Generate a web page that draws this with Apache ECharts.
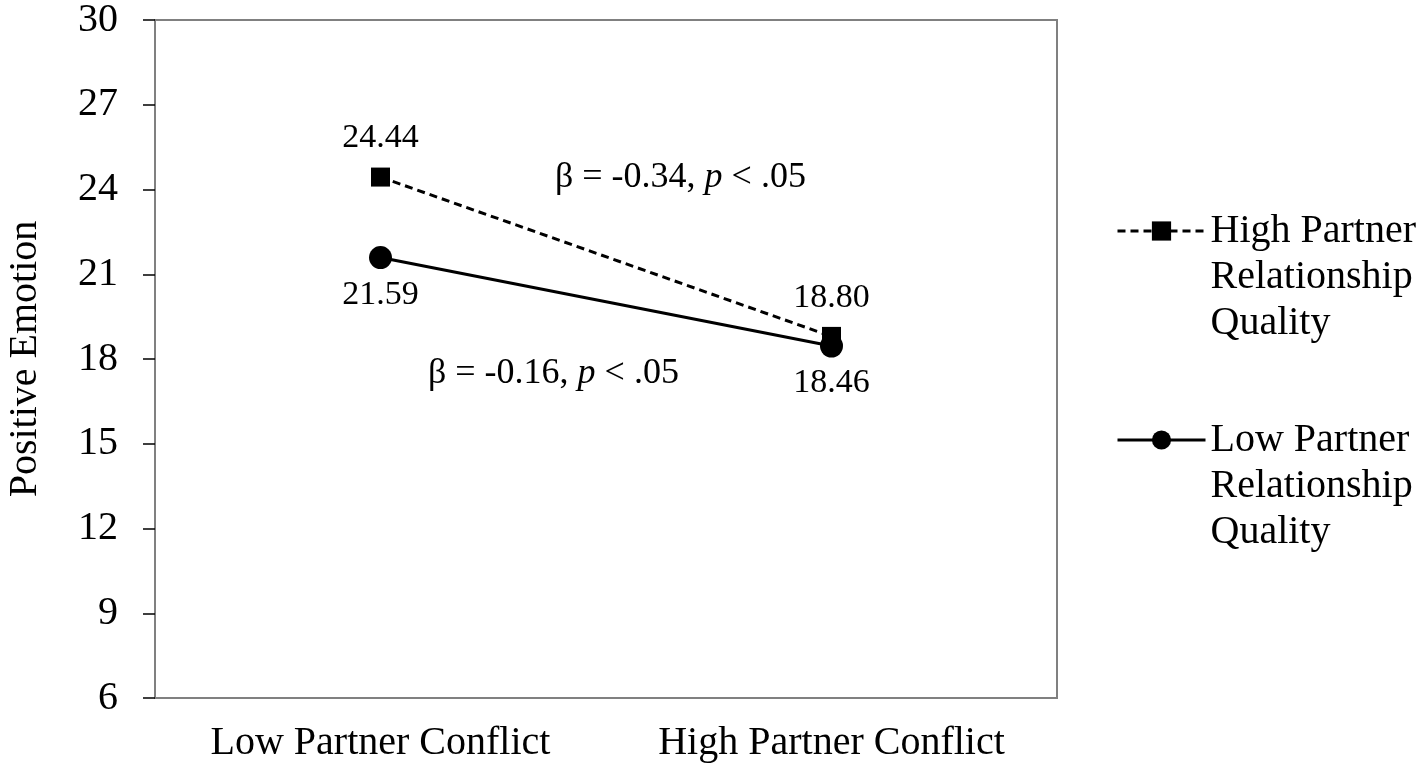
<!DOCTYPE html>
<html>
<head>
<meta charset="utf-8">
<script src="https://cdn.jsdelivr.net/npm/echarts@6/dist/echarts.min.js"></script>
<style>
  html, body { margin: 0; padding: 0; background: #fff; }
  #chart { width: 1421px; height: 771px; }
</style>
</head>
<body>
<div id="chart"></div>
<script>
var categories = ['Low Partner Conflict', 'High Partner Conflict'];
var highQuality = [24.44, 18.80];
var lowQuality = [21.59, 18.46];
var seriesNames = ['High Partner\nRelationship\nQuality', 'Low Partner\nRelationship\nQuality'];
var yTicks = { min: 6, max: 30, step: 3 };
var betaHigh = 'β = -0.34, ';
var betaLow = 'β = -0.16, ';

var serif = '"Liberation Serif", "Times New Roman", serif';
var chart = echarts.init(document.getElementById('chart'));

// rich text for the beta notes, p in italics
function betaText(prefix) {
    return '{n|' + prefix + '}{i|p}{n| < .05}';
}
var betaRich = {
    n: { fontFamily: serif, fontSize: 36, fill: '#000' },
    i: { fontFamily: serif, fontSize: 36, fontStyle: 'italic', fill: '#000' }
};

var option = {
    backgroundColor: '#fff',
    animation: false,
    textStyle: { fontFamily: serif, color: '#000' },
    grid: {
        left: 155, right: 364, top: 20, bottom: 73,
        outerBoundsMode: 'none',
        containLabel: false,
        show: true, borderColor: '#808080', borderWidth: 2
    },
    legend: {
        orient: 'vertical',
        left: 1111, top: 111,
        itemWidth: 88, itemHeight: 24, itemGap: -21,
        data: seriesNames,
        // two blank lines above so the icon sits on the first text line
        formatter: function (name) { return '\n\n' + name; },
        lineStyle: { width: 3 },
        textStyle: {
            fontFamily: serif, fontSize: 40, color: '#000', lineHeight: 46
        }
    },
    xAxis: {
        type: 'category',
        data: categories,
        axisLine: { lineStyle: { color: '#808080', width: 2 } },
        axisTick: { length: 10, lineStyle: { color: '#000', width: 1 } },
        axisLabel: { fontFamily: serif, fontSize: 40, color: '#000', margin: 25 }
    },
    yAxis: {
        type: 'value',
        min: yTicks.min, max: yTicks.max, interval: yTicks.step,
        name: 'Positive Emotion',
        nameLocation: 'middle', nameGap: 110, nameRotate: 90,
        nameTextStyle: { fontFamily: serif, fontSize: 40, color: '#000' },
        splitLine: { show: false },
        axisLine: { show: true, lineStyle: { color: '#808080', width: 2 } },
        axisTick: { show: true, length: 12, lineStyle: { color: '#000', width: 1.5 } },
        axisLabel: { fontFamily: serif, fontSize: 40, color: '#000', margin: 37 }
    },
    series: [
        {
            name: seriesNames[0],
            type: 'line',
            data: highQuality,
            symbol: 'rect', symbolSize: 19,
            itemStyle: { color: '#000' },
            lineStyle: { color: '#000', width: 3, type: [8, 5] },
            label: {
                show: true, position: 'top', distance: 12,
                fontFamily: serif, fontSize: 34, color: '#000',
                formatter: function (p) { return p.value.toFixed(2); }
            },
            z: 3
        },
        {
            name: seriesNames[1],
            type: 'line',
            data: lowQuality,
            symbol: 'circle', symbolSize: 23,
            itemStyle: { color: '#000' },
            lineStyle: { color: '#000', width: 3 },
            label: {
                show: true, position: 'bottom', distance: 9,
                fontFamily: serif, fontSize: 34, color: '#000',
                formatter: function (p) { return p.value.toFixed(2); }
            },
            z: 2
        }
    ],
    graphic: [
        {
            type: 'text', left: 555, top: 160,
            style: { text: betaText(betaHigh), rich: betaRich }
        },
        {
            type: 'text', left: 428, top: 356,
            style: { text: betaText(betaLow), rich: betaRich }
        }
    ]
};

chart.setOption(option);
</script>
</body>
</html>
